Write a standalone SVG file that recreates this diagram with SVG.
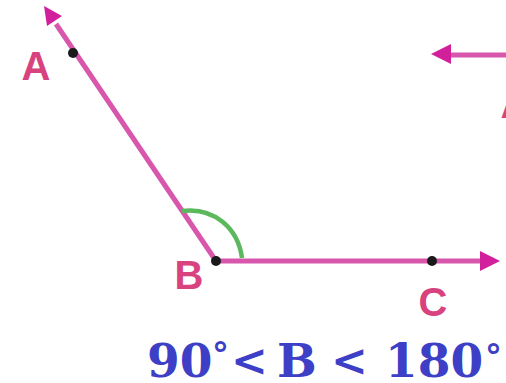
<svg xmlns="http://www.w3.org/2000/svg" width="506" height="383" viewBox="0 0 506 383">
<defs>
<style>
.ray{stroke:#d857ad;stroke-width:5;fill:none;stroke-linecap:butt}
.head{fill:#d21f9c}
.dot{fill:#1a1a1a}
.lbl{font-family:"Liberation Sans",Arial,sans-serif;font-weight:bold;font-size:40px;fill:#d8427f;text-anchor:middle}
.eq{font-family:"DejaVu Serif",serif;font-weight:bold;fill:#3d3fc6}
</style>
</defs>
<rect width="506" height="383" fill="#ffffff"/>
<g id="connectors">
<line class="ray" x1="216" y1="261" x2="56" y2="24"/>
<polygon class="head" points="44,6 62,16 47,26"/>
<line class="ray" x1="216" y1="261" x2="482" y2="261"/>
<polygon class="head" points="500,261 480,251 480,271"/>
<line class="ray" x1="506" y1="55" x2="448" y2="55"/>
<polygon class="head" points="431,54 451,44 451,64"/>
<path d="M182,211 C214,207 238,228 242,258" fill="none" stroke="#5cb85c" stroke-width="4.5"/>
</g>
<g id="A"><circle class="dot" cx="73" cy="53" r="5"/><text class="lbl" x="36" y="80">A</text></g>
<g id="B"><circle class="dot" cx="216" cy="261" r="5"/><text class="lbl" x="189" y="289">B</text></g>
<g id="C"><circle class="dot" cx="432" cy="261" r="5"/><text class="lbl" x="433" y="316">C</text></g>
<g id="partial"><text class="lbl" x="515" y="118">A</text></g>
<g id="formula">
<text class="eq" x="147" y="377" font-size="47">90</text>
<text class="eq" x="212" y="366" font-size="34">°</text>
<text class="eq" x="231" y="376" font-size="44" font-weight="normal">&lt;</text>
<text class="eq" x="277" y="377" font-size="47">B</text>
<text class="eq" x="331" y="376" font-size="44" font-weight="normal">&lt;</text>
<text class="eq" x="385" y="377" font-size="47">180</text>
<text class="eq" x="485" y="368" font-size="34">°</text>
</g>
</svg>
